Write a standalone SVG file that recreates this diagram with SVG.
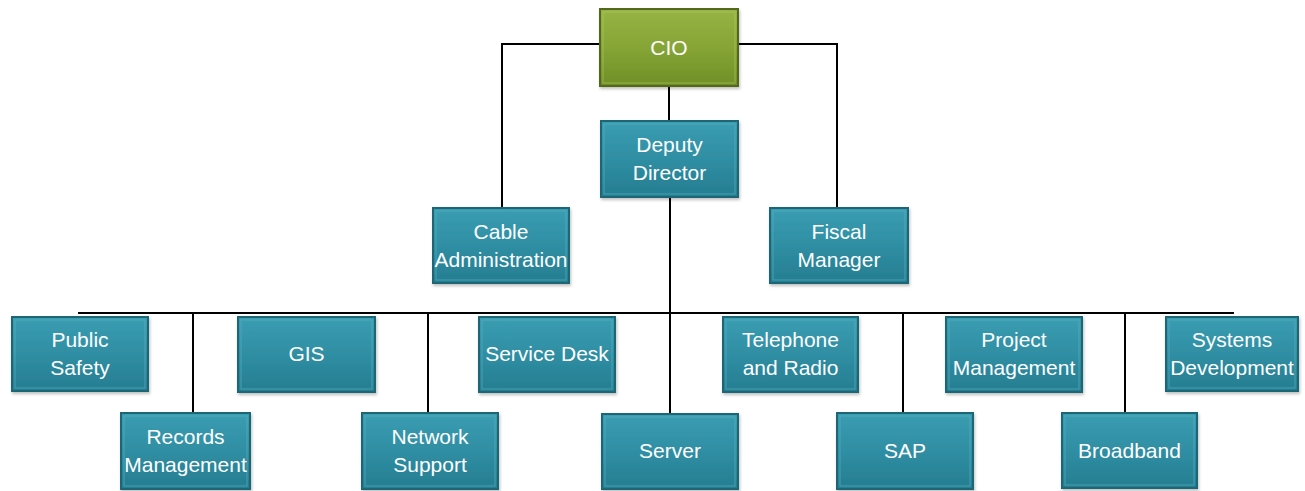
<svg xmlns="http://www.w3.org/2000/svg" width="1305" height="491" viewBox="0 0 1305 491">
<defs>
<linearGradient id="gTeal" x1="0" y1="0" x2="0" y2="1">
<stop offset="0" stop-color="#3b9db2"/>
<stop offset="0.5" stop-color="#2f8ea3"/>
<stop offset="1" stop-color="#267d91"/>
</linearGradient>
<linearGradient id="gGreen" x1="0" y1="0" x2="0" y2="1">
<stop offset="0" stop-color="#96b444"/>
<stop offset="0.5" stop-color="#86a536"/>
<stop offset="1" stop-color="#6f8e26"/>
</linearGradient>
<filter id="sh" x="-10%" y="-10%" width="130%" height="140%">
<feDropShadow dx="1" dy="2" stdDeviation="1.5" flood-color="#000" flood-opacity="0.25"/>
</filter>
</defs>
<style>
.box{fill:url(#gTeal);stroke:#1d6676;stroke-width:2;filter:url(#sh)}
.cio{fill:url(#gGreen);stroke:#52681c;stroke-width:2;filter:url(#sh)}
.inner{fill:none;stroke:#5fb4c6;stroke-width:1;opacity:0.6}
.innerg{fill:none;stroke:#b0cc66;stroke-width:1;opacity:0.6}
.lbl{font-family:"Liberation Sans",Arial,sans-serif;font-size:21px;fill:#ffffff;text-anchor:middle}
.ln{fill:none;stroke:#000;stroke-width:2}
</style>
<rect width="1305" height="491" fill="#ffffff"/>
<g id="connectors">
<path class="ln" d="M600,44 H502 V208"/>
<path class="ln" d="M738,44 H837 V208"/>
<path class="ln" d="M669,86 V121"/>
<path class="ln" d="M670,197 V414"/>
<path class="ln" d="M78,313 H1234"/>
<path class="ln" d="M193,313 V413"/>
<path class="ln" d="M428,313 V413"/>
<path class="ln" d="M903,313 V413"/>
<path class="ln" d="M1125,313 V413"/>
</g>
<g id="cio">
<rect class="cio" x="600" y="9" width="138" height="77"/>
<rect class="innerg" x="603" y="12" width="132" height="71"/>
<text class="lbl" x="669" y="55">CIO</text>
</g>
<g id="deputy-director">
<rect class="box" x="601" y="121" width="137" height="76"/>
<rect class="inner" x="604" y="124" width="131" height="70"/>
<text class="lbl" x="669.5" y="152">Deputy</text>
<text class="lbl" x="669.5" y="180">Director</text>
</g>
<g id="cable-administration">
<rect class="box" x="433" y="208" width="136" height="75"/>
<rect class="inner" x="436" y="211" width="130" height="69"/>
<text class="lbl" x="501" y="239">Cable</text>
<text class="lbl" x="501" y="267">Administration</text>
</g>
<g id="fiscal-manager">
<rect class="box" x="770" y="208" width="138" height="75"/>
<rect class="inner" x="773" y="211" width="132" height="69"/>
<text class="lbl" x="839" y="239">Fiscal</text>
<text class="lbl" x="839" y="267">Manager</text>
</g>
<g id="public-safety">
<rect class="box" x="12" y="317" width="136" height="74"/>
<rect class="inner" x="15" y="320" width="130" height="68"/>
<text class="lbl" x="80" y="347">Public</text>
<text class="lbl" x="80" y="375">Safety</text>
</g>
<g id="gis">
<rect class="box" x="238" y="317" width="137" height="75"/>
<rect class="inner" x="241" y="320" width="131" height="69"/>
<text class="lbl" x="306.5" y="361">GIS</text>
</g>
<g id="service-desk">
<rect class="box" x="479" y="317" width="136" height="75"/>
<rect class="inner" x="482" y="320" width="130" height="69"/>
<text class="lbl" x="547" y="361">Service Desk</text>
</g>
<g id="telephone-and-radio">
<rect class="box" x="723" y="317" width="135" height="75"/>
<rect class="inner" x="726" y="320" width="129" height="69"/>
<text class="lbl" x="790.5" y="347">Telephone</text>
<text class="lbl" x="790.5" y="375">and Radio</text>
</g>
<g id="project-management">
<rect class="box" x="946" y="317" width="136" height="75"/>
<rect class="inner" x="949" y="320" width="130" height="69"/>
<text class="lbl" x="1014" y="347">Project</text>
<text class="lbl" x="1014" y="375">Management</text>
</g>
<g id="systems-development">
<rect class="box" x="1166" y="317" width="132" height="74"/>
<rect class="inner" x="1169" y="320" width="126" height="68"/>
<text class="lbl" x="1232" y="347">Systems</text>
<text class="lbl" x="1232" y="375">Development</text>
</g>
<g id="records-management">
<rect class="box" x="121" y="413" width="129" height="76"/>
<rect class="inner" x="124" y="416" width="123" height="70"/>
<text class="lbl" x="185.5" y="444">Records</text>
<text class="lbl" x="185.5" y="472">Management</text>
</g>
<g id="network-support">
<rect class="box" x="362" y="413" width="136" height="76"/>
<rect class="inner" x="365" y="416" width="130" height="70"/>
<text class="lbl" x="430" y="444">Network</text>
<text class="lbl" x="430" y="472">Support</text>
</g>
<g id="server">
<rect class="box" x="602" y="414" width="136" height="75"/>
<rect class="inner" x="605" y="417" width="130" height="69"/>
<text class="lbl" x="670" y="458">Server</text>
</g>
<g id="sap">
<rect class="box" x="837" y="413" width="136" height="76"/>
<rect class="inner" x="840" y="416" width="130" height="70"/>
<text class="lbl" x="905" y="458">SAP</text>
</g>
<g id="broadband">
<rect class="box" x="1062" y="413" width="135" height="75"/>
<rect class="inner" x="1065" y="416" width="129" height="69"/>
<text class="lbl" x="1129.5" y="458">Broadband</text>
</g>
</svg>
